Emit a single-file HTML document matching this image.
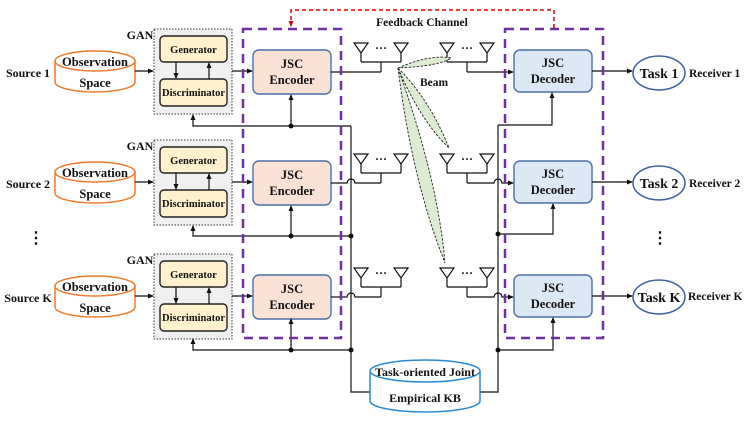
<!DOCTYPE html>
<html><head><meta charset="utf-8"><style>
html,body{margin:0;padding:0;background:#fff}
svg{display:block}
text{font-family:"Liberation Serif",serif;font-weight:bold;fill:#111}
</style></head><body>
<svg width="747" height="421" viewBox="0 0 747 421" xmlns="http://www.w3.org/2000/svg">
<defs>
<marker id="a" markerWidth="6" markerHeight="6" refX="5" refY="3" orient="auto" markerUnits="userSpaceOnUse"><path d="M0,0.5 L6,3 L0,5.5z" fill="#111"/></marker>
<marker id="ar" markerWidth="6" markerHeight="6" refX="5" refY="3" orient="auto" markerUnits="userSpaceOnUse"><path d="M0,0.5 L6,3 L0,5.5z" fill="#d00"/></marker>
<g id="row">
  <!-- cylinder -->
  <path d="M55,61 L55,82 A40,10 0 0 0 135,82 L135,61" fill="#fff" stroke="#f07a2a" stroke-width="1.5"/>
  <ellipse cx="95" cy="61" rx="40" ry="10" fill="#fff" stroke="#f07a2a" stroke-width="1.5"/>
  <text x="95" y="66" font-size="12.5" text-anchor="middle">Observation</text>
  <text x="95" y="87" font-size="12.5" text-anchor="middle">Space</text>
  <line x1="135" y1="71" x2="153" y2="71" stroke="#111" stroke-width="1.2" marker-end="url(#a)"/>
  <!-- GAN -->
  <rect x="154" y="29" width="78" height="85" fill="#f0f0f0" stroke="#333" stroke-width="1" stroke-dasharray="1.5,1.5"/>
  <text x="140" y="39" font-size="12" text-anchor="middle">GAN</text>
  <rect x="160" y="36" width="67" height="26" rx="4" fill="#fff2cc" stroke="#222" stroke-width="1.4"/>
  <text x="193.5" y="53" font-size="10.5" text-anchor="middle">Generator</text>
  <rect x="160" y="79" width="67" height="27" rx="4" fill="#fff2cc" stroke="#222" stroke-width="1.4"/>
  <text x="193.5" y="96" font-size="10.5" text-anchor="middle">Discriminator</text>
  <line x1="176" y1="62" x2="176" y2="78" stroke="#111" stroke-width="1.2" marker-end="url(#a)"/>
  <line x1="209" y1="79" x2="209" y2="63" stroke="#111" stroke-width="1.2" marker-end="url(#a)"/>
  <line x1="232" y1="71" x2="252" y2="71" stroke="#111" stroke-width="1.2" marker-end="url(#a)"/>
  <!-- encoder -->
  <rect x="253" y="50" width="78" height="44" rx="6" fill="#fae3d6" stroke="#4a6fa5" stroke-width="1.4"/>
  <text x="292" y="68" font-size="12.5" text-anchor="middle">JSC</text>
  <text x="292" y="84" font-size="12.5" text-anchor="middle">Encoder</text>
  <!-- tx antennas -->
  <g stroke="#111" stroke-width="1.2" fill="none">
    <path d="M354,43 L368,43 L361,53z M361,53 L361,62 M394,43 L408,43 L401,53z M401,53 L401,62 M361,62 L401,62 M381,62 L381,72"/>
    <path d="M440,43 L454,43 L447,53z M447,53 L447,62 M480,43 L494,43 L487,53z M487,53 L487,62 M447,62 L487,62 M467,62 L467,72"/>
  </g>
  <text x="381" y="52" font-size="12" text-anchor="middle">···</text>
  <text x="467" y="52" font-size="12" text-anchor="middle">···</text>
  <!-- decoder -->
  <rect x="514" y="50" width="78" height="42" rx="6" fill="#dde8f5" stroke="#4a6fa5" stroke-width="1.4"/>
  <text x="553" y="67" font-size="12.5" text-anchor="middle">JSC</text>
  <text x="553" y="83" font-size="12.5" text-anchor="middle">Decoder</text>
  <line x1="592" y1="71" x2="632" y2="71" stroke="#111" stroke-width="1.2" marker-end="url(#a)"/>
</g>
</defs>

<use href="#row"/>
<use href="#row" transform="translate(0,111)"/>
<use href="#row" transform="translate(0,225)"/>

<!-- sources -->
<text x="28" y="77" font-size="12" text-anchor="middle">Source 1</text>
<text x="28" y="188" font-size="12" text-anchor="middle">Source 2</text>
<text x="28" y="302" font-size="12" text-anchor="middle">Source K</text>
<text x="36" y="243" font-size="16" text-anchor="middle">⋮</text>
<text x="660" y="243" font-size="16" text-anchor="middle">⋮</text>

<!-- tasks -->
<g stroke="#3b5fa0" stroke-width="1.5" fill="#fff">
<ellipse cx="659" cy="73" rx="26" ry="17"/>
<ellipse cx="659" cy="183" rx="26" ry="17"/>
<ellipse cx="659" cy="297" rx="26" ry="17"/>
</g>
<text x="659" y="78" font-size="14" text-anchor="middle">Task 1</text>
<text x="659" y="188" font-size="14" text-anchor="middle">Task 2</text>
<text x="659" y="302" font-size="14" text-anchor="middle">Task K</text>
<text x="689" y="77" font-size="11.5">Receiver 1</text>
<text x="689" y="187" font-size="11.5">Receiver 2</text>
<text x="688" y="300" font-size="11.5">Receiver K</text>

<!-- encoder output lines -->
<g stroke="#111" stroke-width="1.2" fill="none">
<path d="M331,72 L381,72"/>
<path d="M331,183 L347,183 A4,4 0 0 1 355,183 L381,183"/>
<path d="M331,297 L347,297 A4,4 0 0 1 355,297 L381,297"/>
<!-- rx feed lines -->
<path d="M467,72 L513,72" marker-end="url(#a)"/>
<path d="M467,183 L494,183 A4,4 0 0 1 502,183 L513,183" marker-end="url(#a)"/>
<path d="M467,297 L494,297 A4,4 0 0 1 502,297 L513,297" marker-end="url(#a)"/>
<!-- tx buses -->
<path d="M351,126 L193,126 L193,115" marker-end="url(#a)"/>
<path d="M291,126 L291,95" marker-end="url(#a)"/>
<path d="M351,236 L193,236 L193,226" marker-end="url(#a)"/>
<path d="M291,236 L291,206" marker-end="url(#a)"/>
<path d="M351,350 L193,350 L193,339" marker-end="url(#a)"/>
<path d="M291,350 L291,319" marker-end="url(#a)"/>
<path d="M351,126 L351,392 L370,392"/>
<!-- rx buses -->
<path d="M498,125 L552,125 L552,93" marker-end="url(#a)"/>
<path d="M498,234 L553,234 L553,204" marker-end="url(#a)"/>
<path d="M498,350 L553,350 L553,318" marker-end="url(#a)"/>
<path d="M498,125 L498,392 L480,392"/>
</g>
<g fill="#111">
<circle cx="291" cy="126" r="2.5"/><circle cx="291" cy="236" r="2.5"/><circle cx="291" cy="350" r="2.5"/>
<circle cx="351" cy="236" r="2.5"/><circle cx="351" cy="350" r="2.5"/>
<circle cx="498" cy="234" r="2.5"/><circle cx="498" cy="350" r="2.5"/>
</g>

<!-- purple dashed boxes -->
<rect x="243" y="29" width="98" height="309" fill="none" stroke="#7030a0" stroke-width="2.5" stroke-dasharray="9,6"/>
<rect x="505" y="29" width="98" height="309" fill="none" stroke="#7030a0" stroke-width="2.5" stroke-dasharray="9,6"/>

<!-- feedback -->
<path d="M554,28 L554,10 L291,10 L291,26" fill="none" stroke="#d00" stroke-width="1.5" stroke-dasharray="4,3" marker-end="url(#ar)"/>
<text x="422" y="26" font-size="11.5" text-anchor="middle">Feedback Channel</text>

<!-- beams -->
<g fill="#dcebd2" stroke="#222" stroke-width="0.9" stroke-dasharray="2.5,1.5">
<path d="M398,68 Q430,54 451,58 Q440,66 398,68z"/>
<path d="M398,68 Q430,100 449,148 Q420,120 398,68z"/>
<path d="M398,68 Q438,180 445,263 Q412,180 398,68z"/>
</g>
<text x="434" y="86" font-size="11.5" text-anchor="middle">Beam</text>

<!-- KB -->
<path d="M370,371 L370,401 A55,11 0 0 0 480,401 L480,371" fill="#fff" stroke="#2a8ad4" stroke-width="1.5"/>
<ellipse cx="425" cy="371" rx="55" ry="11" fill="#fff" stroke="#2a8ad4" stroke-width="1.5"/>
<text x="425" y="376" font-size="12" text-anchor="middle">Task-oriented Joint</text>
<text x="425" y="402" font-size="12" text-anchor="middle">Empirical KB</text>
</svg>
</body></html>
